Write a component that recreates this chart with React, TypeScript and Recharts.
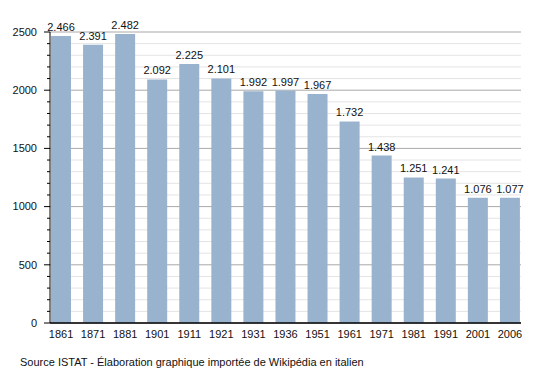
import { BarChart, Bar, XAxis, YAxis, CartesianGrid, LabelList } from "recharts";

const years = ["1861", "1871", "1881", "1901", "1911", "1921", "1931", "1936", "1951", "1961", "1971", "1981", "1991", "2001", "2006"];
const population = [2466, 2391, 2482, 2092, 2225, 2101, 1992, 1997, 1967, 1732, 1438, 1251, 1241, 1076, 1077];

const yTicks = [0, 100, 200, 300, 400, 500, 600, 700, 800, 900, 1000, 1100, 1200, 1300, 1400, 1500, 1600, 1700, 1800, 1900, 2000, 2100, 2200, 2300, 2400, 2500];
const majorTicks = [0, 500, 1000, 1500, 2000, 2500];
const minorTicks = yTicks.filter((t) => !majorTicks.includes(t));

const data = years.map((year, i) => ({ year, value: population[i] }));

const FONT = "'Liberation Sans', Arial, Helvetica, sans-serif";

// 2466 -> "2.466" (italian style)
const fmt = (v: number) => {
  const s = String(v);
  return s.length > 3 ? s.slice(0, s.length - 3) + "." + s.slice(-3) : s;
};

function YTick(props: any) {
  const { x, y, payload } = props;
  const major = payload.value % 500 === 0;
  return (
    <g>
      <line x1={x - (major ? 6 : 3)} x2={x} y1={y} y2={y} stroke="#000" strokeWidth={1} />
      {major && (
        <text x={x - 13} y={y} dy="0.35em" textAnchor="end" fontSize={11} fill="#111" fontFamily={FONT}>
          {payload.value}
        </text>
      )}
    </g>
  );
}

export default function App() {
  return (
    <div style={{ position: "absolute", left: 0, top: 0, width: 550, height: 373, background: "#fff" }}>
      <BarChart width={550} height={373} data={data} margin={{ top: 32, right: 29, bottom: 30, left: 0 }}>
        <CartesianGrid vertical={false} horizontalValues={minorTicks} stroke="#e4e4e4" />
        <CartesianGrid vertical={false} horizontalValues={majorTicks} stroke="#a9a9a9" />
        <XAxis
          dataKey="year"
          padding={{ left: -5, right: -5 }}
          tickLine={false}
          tickMargin={1}
          axisLine={{ stroke: "#000", strokeWidth: 1.5 }}
          height={20}
          tick={{ fontSize: 11, fill: "#111", fontFamily: FONT }}
          interval={0}
        />
        <YAxis
          width={50}
          domain={[0, 2500]}
          ticks={yTicks}
          interval={0}
          tickLine={false}
          tickSize={0}
          tickMargin={0}
          axisLine={{ stroke: "#000", strokeWidth: 1 }}
          tick={<YTick />}
        />
        <Bar dataKey="value" fill="#99b3cf" barSize={20} isAnimationActive={false}>
          <LabelList
            dataKey="value"
            position="top"
            offset={5}
            formatter={(v: any) => fmt(Number(v))}
            style={{ fontSize: 11, fill: "#111", fontFamily: FONT }}
          />
        </Bar>
      </BarChart>
      <div
        style={{
          position: "absolute",
          left: 20,
          top: 356,
          fontSize: 11,
          color: "#111",
          fontFamily: FONT,
          whiteSpace: "nowrap",
        }}
      >
        Source ISTAT - Élaboration graphique importée de Wikipédia en italien
      </div>
    </div>
  );
}
